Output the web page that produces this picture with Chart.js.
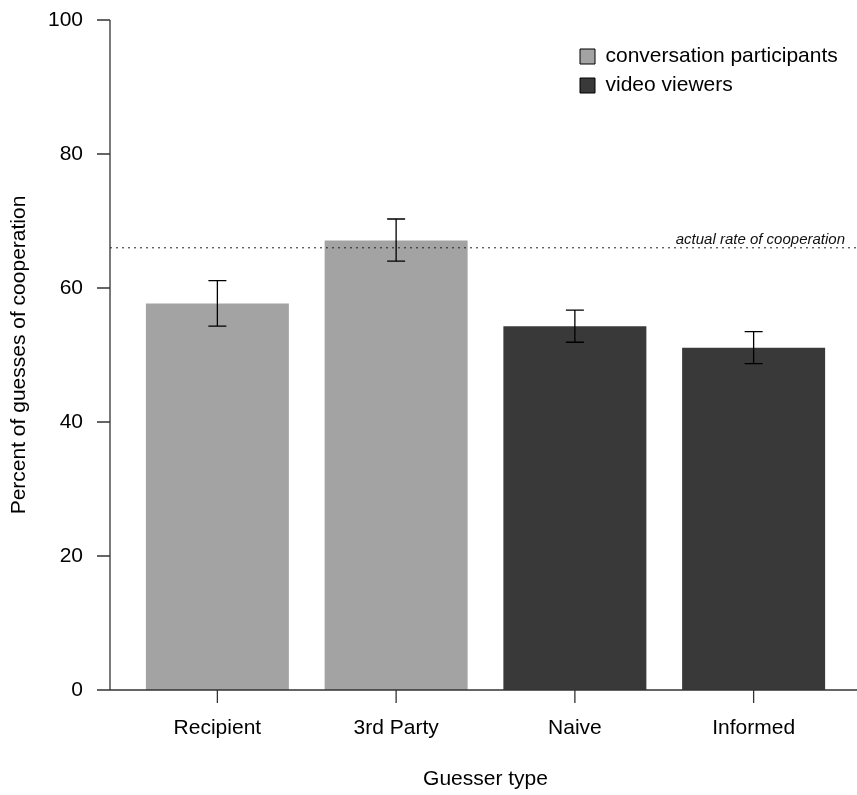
<!DOCTYPE html>
<html>
<head>
<meta charset="utf-8">
<script src="https://cdn.jsdelivr.net/npm/chart.js@4"></script>
<style>
  body { margin: 0; background: #fff; }
</style>
</head>
<body>
<canvas id="myChart" width="857" height="795"></canvas>
<script>
// data
const categories = ['Recipient', '3rd Party', 'Naive', 'Informed'];
const participantPct = [57.7, 67.1, null, null];
const viewerPct = [null, null, 54.3, 51.1];
const errLow = [54.3, 64.0, 51.9, 48.7];
const errHigh = [61.1, 70.3, 56.7, 53.5];
const actualRate = 66;
const yTicks = [0, 20, 40, 60, 80, 100];

const FONT = '"Liberation Sans", Arial, sans-serif';

// -------------------------- axes, error bars, reference line -------------------------- //
const extrasPlugin = {
    id: 'extras',
    afterLayout(chart) {
        // park the legend in the top right corner of the plot
        const lg = chart.legend;
        lg.left = 580 - 8;
        lg.top = 46 - 8;
    },
    afterDatasetsDraw(chart) {
        const ctx = chart.ctx;
        const x = chart.scales.x;
        const y = chart.scales.y;
        const axisX = x.left - 18;
        ctx.save();

        // reference line
        const yr = y.getPixelForValue(actualRate);
        ctx.strokeStyle = '#222';
        ctx.lineWidth = 1;
        ctx.setLineDash([2, 4]);
        ctx.beginPath();
        ctx.moveTo(axisX, yr);
        ctx.lineTo(chart.width, yr);
        ctx.stroke();
        ctx.setLineDash([]);
        ctx.fillStyle = '#111';
        ctx.font = 'italic 15px ' + FONT;
        ctx.textAlign = 'right';
        ctx.textBaseline = 'alphabetic';
        ctx.fillText('actual rate of cooperation', 845, yr - 4);

        // error bars
        ctx.strokeStyle = '#000';
        ctx.lineWidth = 1.3;
        categories.forEach((c, i) => {
            const cx = x.getPixelForValue(i);
            const lo = y.getPixelForValue(errLow[i]);
            const hi = y.getPixelForValue(errHigh[i]);
            ctx.beginPath();
            ctx.moveTo(cx, lo); ctx.lineTo(cx, hi);
            ctx.moveTo(cx - 9, lo); ctx.lineTo(cx + 9, lo);
            ctx.moveTo(cx - 9, hi); ctx.lineTo(cx + 9, hi);
            ctx.stroke();
        });

        // y axis line + ticks
        ctx.strokeStyle = '#333';
        ctx.lineWidth = 1.3;
        ctx.beginPath();
        ctx.moveTo(axisX, y.getPixelForValue(100));
        ctx.lineTo(axisX, y.getPixelForValue(0));
        yTicks.forEach(v => {
            const py = y.getPixelForValue(v);
            ctx.moveTo(axisX - 13, py);
            ctx.lineTo(axisX, py);
        });
        // x baseline + ticks
        const y0 = y.getPixelForValue(0);
        ctx.moveTo(axisX, y0);
        ctx.lineTo(chart.width, y0);
        categories.forEach((c, i) => {
            const cx = x.getPixelForValue(i);
            ctx.moveTo(cx, y0);
            ctx.lineTo(cx, y0 + 13);
        });
        ctx.stroke();
        ctx.restore();
    }
};

const ctx = document.getElementById('myChart');
const myChart = new Chart(ctx, {
    type: 'bar',
    data: {
        labels: categories,
        datasets: [{
            label: 'conversation participants',
            data: participantPct,
            backgroundColor: '#a3a3a3',
            borderWidth: 0
        }, {
            label: 'video viewers',
            data: viewerPct,
            backgroundColor: '#393939',
            borderWidth: 0
        }]
    },
    options: {
        responsive: false,
        animation: false,
        layout: {
            padding: { top: 20, right: 14, left: 0, bottom: 0 }
        },
        datasets: {
            bar: { grouped: false, barPercentage: 0.8, categoryPercentage: 1.0 }
        },
        scales: {
            x: {
                grid: { display: false, drawTicks: false },
                border: { display: false },
                ticks: { color: '#000', padding: 26, font: { family: FONT, size: 21 } },
                title: {
                    display: true,
                    text: 'Guesser type',
                    color: '#000',
                    padding: { top: 0, bottom: 3 },
                    font: { family: FONT, size: 21 }
                },
                afterFit(scale) {
                    scale.height = 105;
                    scale.paddingLeft = 0;
                    scale.paddingRight = 0;
                }
            },
            y: {
                min: 0,
                max: 100,
                grid: { display: false, drawTicks: false },
                border: { display: false },
                ticks: {
                    stepSize: 20,
                    color: '#000',
                    padding: 45,
                    font: { family: FONT, size: 21 }
                },
                title: {
                    display: true,
                    text: 'Percent of guesses of cooperation',
                    color: '#000',
                    padding: { top: 7, bottom: 0 },
                    font: { family: FONT, size: 21 }
                },
                afterFit(scale) {
                    scale.width = 128;
                    scale.paddingTop = 0;
                    scale.paddingBottom = 0;
                }
            }
        },
        plugins: {
            tooltip: { enabled: false },
            legend: {
                position: 'chartArea',
                align: 'start',
                labels: {
                    boxWidth: 15,
                    boxHeight: 15,
                    padding: 8,
                    color: '#000',
                    font: { family: FONT, size: 21 },
                    generateLabels(chart) {
                        const items = Chart.defaults.plugins.legend.labels.generateLabels(chart);
                        items.forEach(it => { it.strokeStyle = '#000'; it.lineWidth = 1; });
                        return items;
                    }
                }
            }
        }
    },
    plugins: [extrasPlugin]
});
</script>
</body>
</html>
